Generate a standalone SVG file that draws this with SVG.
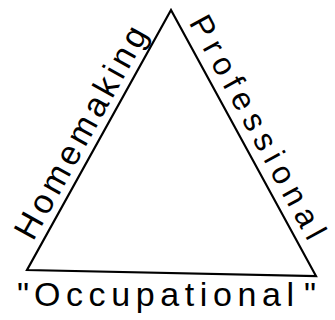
<svg xmlns="http://www.w3.org/2000/svg" width="335" height="320" viewBox="0 0 335 320">
<style>
.lbl{font-family:"Liberation Sans","DejaVu Sans",sans-serif;font-size:34px;fill:#000}
.edge{fill:none;stroke:#000;stroke-width:2.2;stroke-linejoin:miter}
</style>
<rect width="335" height="320" fill="#fff"/>
<g id="connectors">
<polygon class="edge" points="171,10 27,270 316,276"/>
</g>
<g id="homemaking">
<text class="lbl" transform="translate(33,242) rotate(-61)" textLength="238" lengthAdjust="spacing">Homemaking</text>
</g>
<g id="professional">
<text class="lbl" transform="translate(188.5,22.5) rotate(61.4)" textLength="250" lengthAdjust="spacing" style="font-size:32px">Professional</text>
</g>
<g id="occupational">
<text class="lbl" x="17" y="306">"</text>
<text class="lbl" x="34" y="306" textLength="260" lengthAdjust="spacing">Occupational</text>
<text class="lbl" x="304" y="306">"</text>
</g>
</svg>
